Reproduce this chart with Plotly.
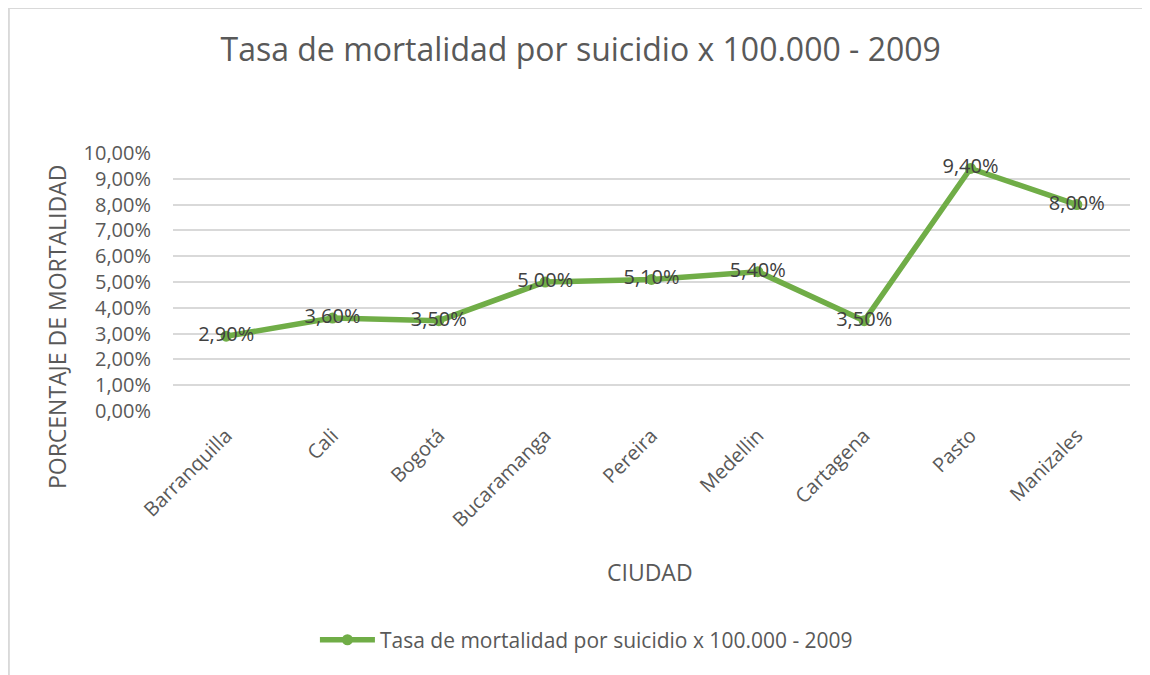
import plotly.graph_objects as go

cities = ["Barranquilla", "Cali", "Bogotá", "Bucaramanga", "Pereira",
          "Medellin", "Cartagena", "Pasto", "Manizales"]
rates = [0.029, 0.036, 0.035, 0.050, 0.051, 0.054, 0.035, 0.094, 0.080]
rate_labels = ["2,90%", "3,60%", "3,50%", "5,00%", "5,10%",
               "5,40%", "3,50%", "9,40%", "8,00%"]

series_name = "Tasa de mortalidad por suicidio x 100.000 - 2009"
green = "#70AD47"
grey = "#595959"
border = "#D9D9D9"
font_family = "Open Sans, Liberation Sans, sans-serif"

fig = go.Figure()
fig.add_trace(
    go.Scatter(
        x=cities,
        y=rates,
        mode="lines+markers+text",
        name=series_name,
        text=rate_labels,
        textposition="middle center",
        textfont=dict(size=20, color="#404040", family=font_family),
        line=dict(color=green, width=5.5),
        marker=dict(color=green, size=11),
    )
)

# page body adds ~8px offset, margins are compensated for it
fig.update_layout(
    width=1150,
    height=675,
    separators=",.",
    paper_bgcolor="white",
    plot_bgcolor="white",
    font=dict(family=font_family, color=grey),
    margin=dict(l=165, r=28, t=145, b=272),
    title=dict(
        text=series_name,
        x=0.498, xanchor="center", y=0.938, yanchor="middle",
        font=dict(size=32, color=grey),
    ),
    showlegend=True,
    legend=dict(
        orientation="h", x=0.432, xanchor="center", y=-0.888, yanchor="middle",
        font=dict(size=21, color=grey), itemwidth=55,
    ),
    annotations=[
        dict(text="PORCENTAJE DE MORTALIDAD", xref="paper", yref="paper",
             x=-0.121, y=0.326, textangle=-90, showarrow=False,
             xanchor="center", yanchor="middle", font=dict(size=23, color=grey)),
        dict(text="CIUDAD", xref="paper", yref="paper",
             x=0.498, y=-0.624, showarrow=False,
             xanchor="center", yanchor="middle", font=dict(size=23, color=grey)),
    ],
    shapes=[
        dict(type="line", xref="paper", yref="paper",
             x0=-0.1715, x1=1.03, y0=1.562, y1=1.562,
             line=dict(color=border, width=2)),
        dict(type="line", xref="paper", yref="paper",
             x0=-0.1715, x1=-0.1715, y0=1.562, y1=-1.1,
             line=dict(color=border, width=2)),
    ],
)

fig.update_xaxes(
    type="category",
    range=[-0.5, 8.5],
    tickangle=-45,
    tickfont=dict(size=20, color=grey),
    showgrid=False,
    showline=False,
    ticks="",
    ticklabelstandoff=8,
)
fig.update_yaxes(
    range=[0, 0.1],
    dtick=0.01,
    tickformat=".2%",
    tickfont=dict(size=20, color=grey),
    gridcolor=border,
    gridwidth=1.5,
    zeroline=False,
    showline=False,
    ticklabelstandoff=21,
)

fig.write_html("out.html")
